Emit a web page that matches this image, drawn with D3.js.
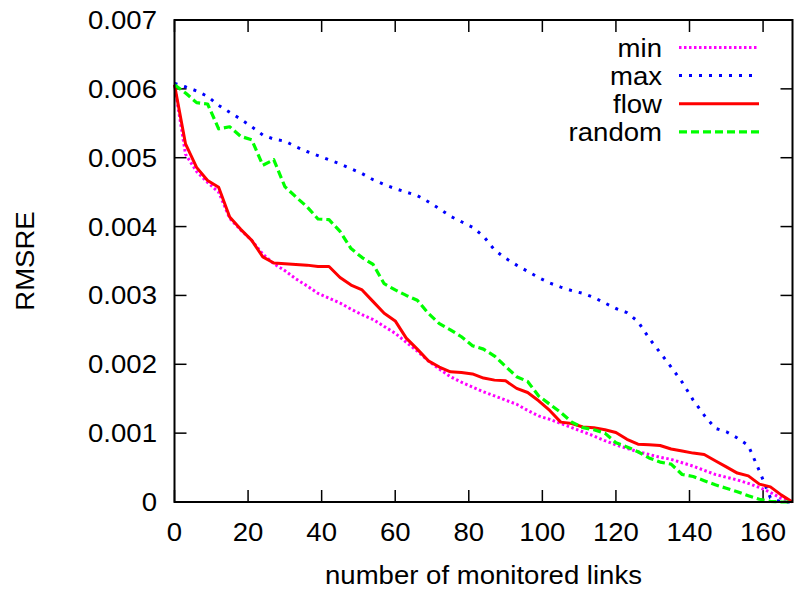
<!DOCTYPE html>
<html>
<head>
<meta charset="utf-8">
<script src="https://cdn.jsdelivr.net/npm/d3@7/dist/d3.min.js"></script>
<style>
html,body{margin:0;padding:0;background:#fff;}
svg{display:block;}
text{font-family:"Liberation Sans",Arial,sans-serif;fill:#000;}
</style>
</head>
<body>
<svg id="chart" width="795" height="591"></svg>
<script>
// ---- data (RMSRE values in units of 0.001) ----
const links = [0,3,6,9,12,15,18,21,24,27,30,33,36,39,42,45,48,51,54,57,60,63,66,69,72,75,78,81,84,87,90,93,96,99,102,105,108,111,114,117,120,123,126,129,132,135,138,141,144,147,150,153,156,159,162,165,168];
const minVals = [6.06,5.05,4.80,4.64,4.50,4.12,3.95,3.80,3.60,3.46,3.36,3.24,3.14,3.03,2.96,2.89,2.80,2.72,2.65,2.55,2.45,2.32,2.19,2.05,1.93,1.82,1.74,1.67,1.60,1.54,1.48,1.42,1.33,1.25,1.20,1.14,1.08,1.02,0.96,0.89,0.83,0.78,0.73,0.69,0.65,0.62,0.57,0.52,0.46,0.40,0.36,0.32,0.27,0.21,0.14,0.05,0.00];
const maxVals = [6.08,6.03,5.97,5.89,5.76,5.66,5.56,5.45,5.33,5.27,5.24,5.16,5.09,5.03,4.97,4.91,4.84,4.77,4.68,4.61,4.55,4.50,4.45,4.36,4.26,4.15,4.07,3.99,3.86,3.66,3.54,3.44,3.35,3.26,3.18,3.12,3.07,3.03,2.97,2.89,2.81,2.75,2.62,2.38,2.17,1.96,1.74,1.48,1.26,1.07,1.02,0.93,0.82,0.45,0.06,0.00,0.00];
const flowVals = [6.06,5.20,4.86,4.67,4.57,4.14,3.96,3.80,3.56,3.47,3.46,3.45,3.44,3.42,3.42,3.26,3.15,3.08,2.91,2.74,2.63,2.38,2.22,2.05,1.96,1.89,1.88,1.86,1.80,1.77,1.76,1.65,1.59,1.47,1.33,1.16,1.14,1.09,1.08,1.05,1.01,0.91,0.84,0.83,0.82,0.77,0.74,0.71,0.69,0.60,0.51,0.42,0.38,0.26,0.22,0.10,0.00];
const randomVals = [6.06,5.94,5.80,5.78,5.42,5.45,5.31,5.26,4.89,4.97,4.58,4.43,4.29,4.11,4.10,3.93,3.68,3.55,3.45,3.17,3.08,3.00,2.93,2.74,2.59,2.50,2.40,2.27,2.22,2.12,1.97,1.82,1.75,1.54,1.42,1.30,1.16,1.08,1.05,1.00,0.86,0.80,0.73,0.64,0.58,0.55,0.40,0.37,0.31,0.25,0.20,0.15,0.09,0.04,0.01,0.00,0.00];
const seriesNames = ["min","max","flow","random"];
const xTicks = [0,20,40,60,80,100,120,140,160];
const yTicks = [0,0.001,0.002,0.003,0.004,0.005,0.006,0.007];
const yTickLabels = ["0","0.001","0.002","0.003","0.004","0.005","0.006","0.007"];
const xTitle = "number of monitored links";
const yTitle = "RMSRE";

// ---- layout ----
const L = 174.5, R = 792.5, T = 20, B = 502;
const FS = 26, SX = 1.06;
const svg = d3.select("#chart");
const x = d3.scaleLinear().domain([0,168]).range([L,R]);
const y = d3.scaleLinear().domain([0,0.007]).range([B,T]);

function txt(g, s, px, py, anchor, rot) {
  const t = g.append("text").text(s)
    .attr("font-size", FS)
    .attr("text-anchor", anchor)
    .attr("transform", `translate(${px},${py})` + (rot ? ` rotate(${rot})` : "") + ` scale(${SX},1)`);
  return t;
}

// ticks (inward, mirrored)
const tk = 12;
const axG = svg.append("g").attr("stroke","#000").attr("stroke-width",1.5);
xTicks.forEach(v => {
  axG.append("line").attr("x1",x(v)).attr("x2",x(v)).attr("y1",B).attr("y2",B-tk);
  axG.append("line").attr("x1",x(v)).attr("x2",x(v)).attr("y1",T).attr("y2",T+tk);
});
yTicks.forEach(v => {
  axG.append("line").attr("x1",L).attr("x2",L+tk).attr("y1",y(v)).attr("y2",y(v));
  axG.append("line").attr("x1",R).attr("x2",R-tk).attr("y1",y(v)).attr("y2",y(v));
});

// tick labels
const lab = svg.append("g");
xTicks.forEach(v => txt(lab, String(v), x(v), 541, "middle"));
yTicks.forEach((v,i) => txt(lab, yTickLabels[i], 157, y(v)+9, "end"));
txt(lab, xTitle, (L+R)/2, 584, "middle");
txt(lab, yTitle, 34, (T+B)/2, "middle", -90);

// series
const styles = {
  min:    {color:"#ff00ff", dash:"2.5,2.5", w:3},
  max:    {color:"#0000ff", dash:"3,7",     w:3},
  flow:   {color:"#ff0000", dash:null,      w:3},
  random: {color:"#00ff00", dash:"8,4",     w:3.2}
};
const valsBy = {min:minVals, max:maxVals, flow:flowVals, random:randomVals};
const line = d3.line().x(d => x(d[0])).y(d => y(d[1]/1000));
const plotG = svg.append("g");
seriesNames.forEach(n => {
  const pts = links.map((l,i) => [l, valsBy[n][i]]);
  const st = styles[n];
  plotG.append("path").datum(pts).attr("d", line)
    .attr("fill","none").attr("stroke",st.color).attr("stroke-width",st.w)
    .attr("stroke-dasharray", st.dash).attr("stroke-linejoin","round");
});

// frame
svg.append("rect").attr("x",L).attr("y",T).attr("width",R-L).attr("height",B-T)
  .attr("fill","none").attr("stroke","#000").attr("stroke-width",2);

// legend
const lg = svg.append("g");
seriesNames.forEach((n,i) => {
  const ly = 47.5 + i*28.1;
  const st = styles[n];
  txt(lg, n, 662, ly+9, "end");
  lg.append("line").attr("x1",679).attr("x2",759).attr("y1",ly).attr("y2",ly)
    .attr("stroke",st.color).attr("stroke-width",st.w).attr("stroke-dasharray",st.dash);
});
</script>
</body>
</html>
